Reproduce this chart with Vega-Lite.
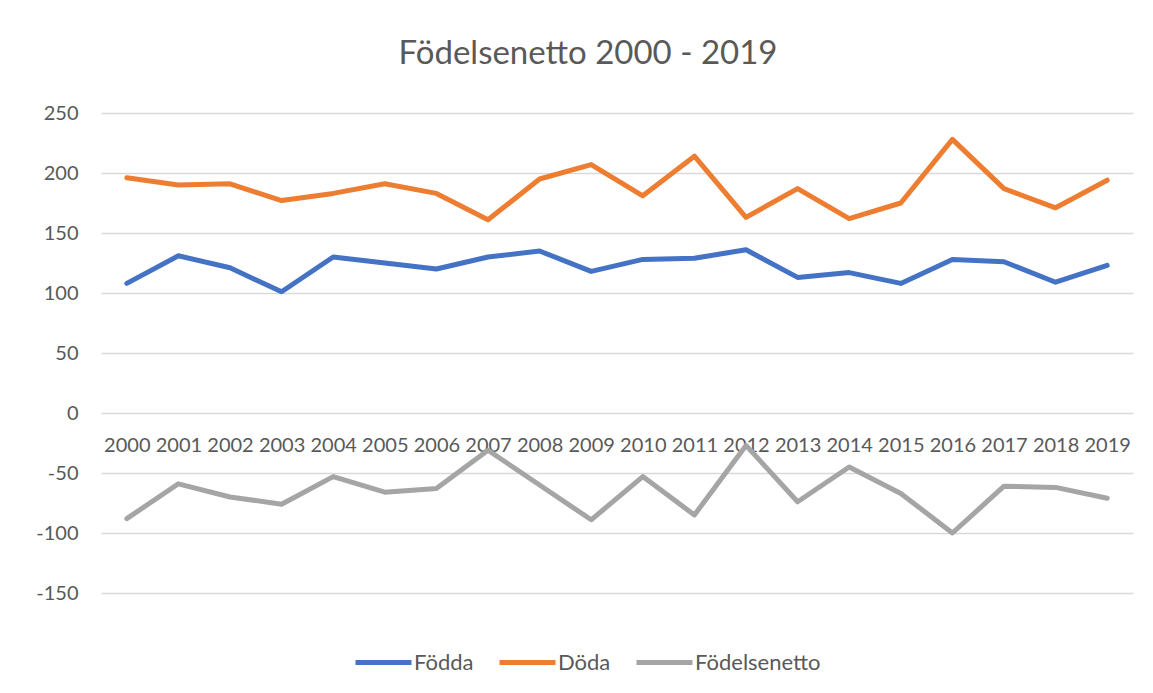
{
  "$schema": "https://vega.github.io/schema/vega-lite/v6.json",
  "autosize": {"type": "none"},
  "width": 1032,
  "height": 480,
  "padding": {"left": 101, "top": 113, "right": 20, "bottom": 100},
  "background": "white",
  "title": {
    "text": "Födelsenetto 2000 - 2019",
    "font": "Lato",
    "fontSize": 33,
    "fontWeight": "normal",
    "color": "#595959",
    "anchor": "middle",
    "baseline": "alphabetic",
    "offset": 6,
    "dx": -29
  },
  "config": {
    "view": {"stroke": null},
    "font": "Lato"
  },
  "data": {
    "values": [
      {"year": "2000", "serie": "Födda", "value": 108},
      {"year": "2001", "serie": "Födda", "value": 131},
      {"year": "2002", "serie": "Födda", "value": 121},
      {"year": "2003", "serie": "Födda", "value": 101},
      {"year": "2004", "serie": "Födda", "value": 130},
      {"year": "2005", "serie": "Födda", "value": 125},
      {"year": "2006", "serie": "Födda", "value": 120},
      {"year": "2007", "serie": "Födda", "value": 130},
      {"year": "2008", "serie": "Födda", "value": 135},
      {"year": "2009", "serie": "Födda", "value": 118},
      {"year": "2010", "serie": "Födda", "value": 128},
      {"year": "2011", "serie": "Födda", "value": 129},
      {"year": "2012", "serie": "Födda", "value": 136},
      {"year": "2013", "serie": "Födda", "value": 113},
      {"year": "2014", "serie": "Födda", "value": 117},
      {"year": "2015", "serie": "Födda", "value": 108},
      {"year": "2016", "serie": "Födda", "value": 128},
      {"year": "2017", "serie": "Födda", "value": 126},
      {"year": "2018", "serie": "Födda", "value": 109},
      {"year": "2019", "serie": "Födda", "value": 123},
      {"year": "2000", "serie": "Döda", "value": 196},
      {"year": "2001", "serie": "Döda", "value": 190},
      {"year": "2002", "serie": "Döda", "value": 191},
      {"year": "2003", "serie": "Döda", "value": 177},
      {"year": "2004", "serie": "Döda", "value": 183},
      {"year": "2005", "serie": "Döda", "value": 191},
      {"year": "2006", "serie": "Döda", "value": 183},
      {"year": "2007", "serie": "Döda", "value": 161},
      {"year": "2008", "serie": "Döda", "value": 195},
      {"year": "2009", "serie": "Döda", "value": 207},
      {"year": "2010", "serie": "Döda", "value": 181},
      {"year": "2011", "serie": "Döda", "value": 214},
      {"year": "2012", "serie": "Döda", "value": 163},
      {"year": "2013", "serie": "Döda", "value": 187},
      {"year": "2014", "serie": "Döda", "value": 162},
      {"year": "2015", "serie": "Döda", "value": 175},
      {"year": "2016", "serie": "Döda", "value": 228},
      {"year": "2017", "serie": "Döda", "value": 187},
      {"year": "2018", "serie": "Döda", "value": 171},
      {"year": "2019", "serie": "Döda", "value": 194},
      {"year": "2000", "serie": "Födelsenetto", "value": -88},
      {"year": "2001", "serie": "Födelsenetto", "value": -59},
      {"year": "2002", "serie": "Födelsenetto", "value": -70},
      {"year": "2003", "serie": "Födelsenetto", "value": -76},
      {"year": "2004", "serie": "Födelsenetto", "value": -53},
      {"year": "2005", "serie": "Födelsenetto", "value": -66},
      {"year": "2006", "serie": "Födelsenetto", "value": -63},
      {"year": "2007", "serie": "Födelsenetto", "value": -31},
      {"year": "2008", "serie": "Födelsenetto", "value": -60},
      {"year": "2009", "serie": "Födelsenetto", "value": -89},
      {"year": "2010", "serie": "Födelsenetto", "value": -53},
      {"year": "2011", "serie": "Födelsenetto", "value": -85},
      {"year": "2012", "serie": "Födelsenetto", "value": -27},
      {"year": "2013", "serie": "Födelsenetto", "value": -74},
      {"year": "2014", "serie": "Födelsenetto", "value": -45},
      {"year": "2015", "serie": "Födelsenetto", "value": -67},
      {"year": "2016", "serie": "Födelsenetto", "value": -100},
      {"year": "2017", "serie": "Födelsenetto", "value": -61},
      {"year": "2018", "serie": "Födelsenetto", "value": -62},
      {"year": "2019", "serie": "Födelsenetto", "value": -71}
    ]
  },
  "mark": {"type": "line", "strokeWidth": 5, "strokeCap": "round", "strokeJoin": "round"},
  "encoding": {
    "x": {
      "field": "year",
      "type": "ordinal",
      "scale": {"type": "point", "padding": 0.5},
      "axis": {
        "title": null,
        "labelAngle": 0,
        "offset": -180,
        "domain": false,
        "ticks": false,
        "grid": false,
        "labelFont": "Lato",
        "labelFontSize": 20,
        "labelColor": "#595959",
        "labelPadding": 22,
        "labelBaseline": "top"
      }
    },
    "y": {
      "field": "value",
      "type": "quantitative",
      "scale": {"domain": [-150, 250], "nice": false, "zero": false},
      "axis": {
        "title": null,
        "values": [-150, -100, -50, 0, 50, 100, 150, 200, 250],
        "labelExpr": "'' + datum.value",
        "domain": false,
        "ticks": false,
        "grid": true,
        "gridColor": "#D9D9D9",
        "gridWidth": 1.3,
        "labelFont": "Lato",
        "labelFontSize": 20,
        "labelColor": "#595959",
        "labelPadding": 23
      }
    },
    "color": {
      "field": "serie",
      "type": "nominal",
      "sort": ["Födda", "Döda", "Födelsenetto"],
      "scale": {
        "domain": ["Födda", "Döda", "Födelsenetto"],
        "range": ["#4472C4", "#ED7D31", "#A5A5A5"]
      },
      "legend": {
        "title": null,
        "orient": "none",
        "direction": "horizontal",
        "gridAlign": "none",
        "legendX": 252,
        "legendY": 519,
        "symbolType": "stroke",
        "symbolSize": 3136,
        "symbolStrokeWidth": 5,
        "labelFont": "Lato",
        "labelFontSize": 22,
        "labelColor": "#595959",
        "labelOffset": 0,
        "columnPadding": 15
      }
    }
  }
}
